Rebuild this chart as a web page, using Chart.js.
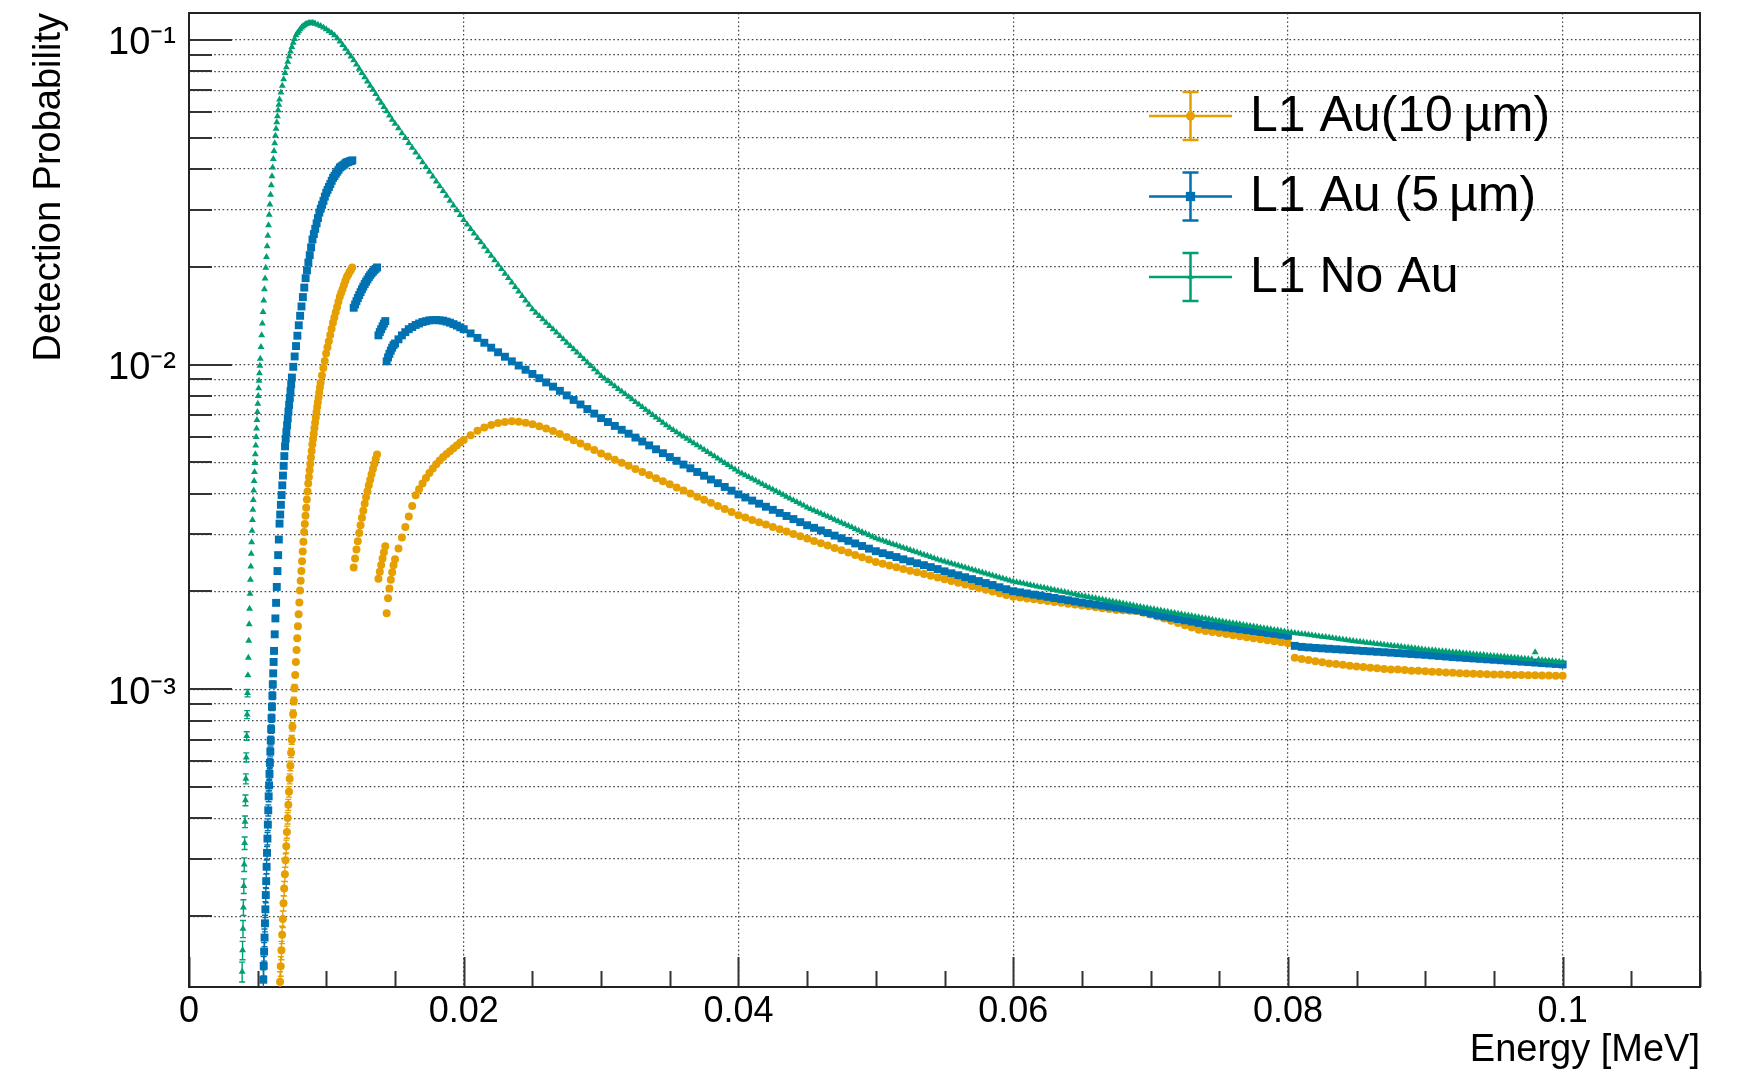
<!DOCTYPE html>
<html>
<head>
<meta charset="utf-8">
<script src="https://cdn.jsdelivr.net/npm/chart.js@4/dist/chart.umd.min.js"></script>
<style>
  html, body { margin: 0; padding: 0; background: #ffffff; }
  canvas { display: block; }
</style>
</head>
<body>
<canvas id="c" width="1745" height="1077"></canvas>
<script>
// ---------------- DATA ----------------
const seriesLabels = ['L1 Au(10\u2009\u00b5m)', 'L1 Au (5\u2009\u00b5m)', 'L1 No Au'];
const seriesColors = ['#E69F00', '#0072B2', '#009E73'];

const xTickValues = [0, 0.02, 0.04, 0.06, 0.08, 0.1];
const xTickLabels = ['0', '0.02', '0.04', '0.06', '0.08', '0.1'];
const yDecadeValues = [0.001, 0.01, 0.1];
const yDecadeLabels = ['10\u207b\u00b3', '10\u207b\u00b2', '10\u207b\u00b9'];
const xAxisTitle = 'Energy [MeV]';
const yAxisTitle = 'Detection Probability';
const eventsPerBin = 1.5e6;

// common energy bins above 15 keV (MeV)
const tailEnergy = [
0.015,0.0155,0.016,0.0165,0.017,0.0175,0.018,0.0185,0.019,0.0195,
0.02,0.0205,0.021,0.0215,0.022,0.0225,0.023,0.0235,0.024,0.0245,
0.025,0.0255,0.026,0.0265,0.027,0.0275,0.028,0.0285,0.029,0.0295,
0.03,0.0305,0.031,0.0315,0.032,0.0325,0.033,0.0335,0.034,0.0345,
0.035,0.0355,0.036,0.0365,0.037,0.0375,0.038,0.0385,0.039,0.0395,
0.04,0.0405,0.041,0.0415,0.042,0.0425,0.043,0.0435,0.044,0.0445,
0.045,0.0455,0.046,0.0465,0.047,0.0475,0.048,0.0485,0.049,0.0495,
0.05,0.0505,0.051,0.0515,0.052,0.0525,0.053,0.0535,0.054,0.0545,
0.055,0.0555,0.056,0.0565,0.057,0.0575,0.058,0.0585,0.059,0.0595,
0.06,0.0605,0.061,0.0615,0.062,0.0625,0.063,0.0635,0.064,0.0645,
0.065,0.0655,0.066,0.0665,0.067,0.0675,0.068,0.0685,0.069,0.0695,
0.07,0.0705,0.071,0.0715,0.072,0.0725,0.073,0.0735,0.074,0.0745,
0.075,0.0755,0.076,0.0765,0.077,0.0775,0.078,0.0785,0.079,0.0795,
0.08,0.0805,0.081,0.0815,0.082,0.0825,0.083,0.0835,0.084,0.0845,
0.085,0.0855,0.086,0.0865,0.087,0.0875,0.088,0.0885,0.089,0.0895,
0.09,0.0905,0.091,0.0915,0.092,0.0925,0.093,0.0935,0.094,0.0945,
0.095,0.0955,0.096,0.0965,0.097,0.0975,0.098,0.0985,0.099,0.0995,
0.1];

// in-between bins above 15 keV
const midEnergy = [
0.01525,0.01575,0.01625,0.01675,0.01725,0.01775,0.01825,0.01875,0.01925,0.01975,
0.02025,0.02075,0.02125,0.02175,0.02225,0.02275,0.02325,0.02375,0.02425,0.02475,
0.02525,0.02575,0.02625,0.02675,0.02725,0.02775,0.02825,0.02875,0.02925,0.02975,
0.03025,0.03075,0.03125,0.03175,0.03225,0.03275,0.03325,0.03375,0.03425,0.03475,
0.03525,0.03575,0.03625,0.03675,0.03725,0.03775,0.03825,0.03875,0.03925,0.03975,
0.04025,0.04075,0.04125,0.04175,0.04225,0.04275,0.04325,0.04375,0.04425,0.04475,
0.04525,0.04575,0.04625,0.04675,0.04725,0.04775,0.04825,0.04875,0.04925,0.04975,
0.05025,0.05075,0.05125,0.05175,0.05225,0.05275,0.05325,0.05375,0.05425,0.05475,
0.05525,0.05575,0.05625,0.05675,0.05725,0.05775,0.05825,0.05875,0.05925,0.05975,
0.06025,0.06075,0.06125,0.06175,0.06225,0.06275,0.06325,0.06375,0.06425,0.06475,
0.06525,0.06575,0.06625,0.06675,0.06725,0.06775,0.06825,0.06875,0.06925,0.06975,
0.07025,0.07075,0.07125,0.07175,0.07225,0.07275,0.07325,0.07375,0.07425,0.07475,
0.07525,0.07575,0.07625,0.07675,0.07725,0.07775,0.07825,0.07875,0.07925,0.07975,
0.08025,0.08075,0.08125,0.08175,0.08225,0.08275,0.08325,0.08375,0.08425,0.08475,
0.08525,0.08575,0.08625,0.08675,0.08725,0.08775,0.08825,0.08875,0.08925,0.08975,
0.09025,0.09075,0.09125,0.09175,0.09225,0.09275,0.09325,0.09375,0.09425,0.09475,
0.09525,0.09575,0.09625,0.09675,0.09725,0.09775,0.09825,0.09875,0.09925,0.09975];

// ---- L1 Au (10 um) ----
const au10LowEnergy = [
0.00663,0.00668,0.00673,0.00678,0.00683,0.00688,0.00693,0.00698,0.00703,0.00708,
0.00713,0.00718,0.00723,0.00728,0.00733,0.00738,0.00743,0.00748,0.00753,0.00758,
0.00763,0.00768,0.00773,0.00778,0.00783,0.00788,0.00793,0.00798,0.00803,0.00808,
0.00813,0.00818,0.00823,0.00828,0.00833,0.00838,0.00843,0.00848,0.00853,0.00858,
0.00863,0.00868,0.00873,0.00878,0.00883,0.00888,0.00893,0.00898,0.00903,0.00908,
0.00913,0.00918,0.00923,0.00928,0.00933,0.00938,0.00943,0.00948,0.00953,0.00958,
0.00968,0.00978,0.00988,0.00998,0.01008,0.01018,0.01028,0.01038,0.01048,0.01058,
0.01068,0.01078,0.01088,0.01098,0.01108,0.01118,0.01128,0.01138,0.01148,0.01158,
0.01168,0.01178,0.01188,
0.01199,0.01209,0.01219,0.01229,0.01239,0.01249,0.01259,0.01269,0.01279,0.01289,
0.01299,0.01309,0.01319,0.01329,0.01339,0.01349,0.01359,0.01369,
0.01379,0.01389,0.01399,0.01409,0.01419,0.01429,
0.01439,0.01449,0.01459,0.01469,0.01479,0.01489];
const au10LowProb = [
1.256e-4,1.403e-4,1.570e-4,1.754e-4,1.959e-4,2.193e-4,2.432e-4,2.692e-4,2.972e-4,3.281e-4,
3.631e-4,4.009e-4,4.406e-4,4.831e-4,5.297e-4,5.808e-4,6.368e-4,6.982e-4,7.656e-4,8.395e-4,
9.204e-4,1.009e-3,1.107e-3,1.213e-3,1.321e-3,1.435e-3,1.563e-3,1.702e-3,1.849e-3,2.014e-3,
2.158e-3,2.312e-3,2.477e-3,2.655e-3,2.844e-3,3.048e-3,3.228e-3,3.420e-3,3.622e-3,3.837e-3,
4.064e-3,4.305e-3,4.508e-3,4.721e-3,4.943e-3,5.176e-3,5.420e-3,5.675e-3,5.902e-3,6.124e-3,
6.368e-3,6.622e-3,6.871e-3,7.145e-3,7.396e-3,7.656e-3,7.925e-3,8.204e-3,8.492e-3,8.790e-3,
9.247e-3,9.750e-3,1.026e-2,1.081e-2,1.130e-2,1.180e-2,1.233e-2,1.288e-2,1.346e-2,1.396e-2,
1.449e-2,1.503e-2,1.560e-2,1.618e-2,1.663e-2,1.710e-2,1.758e-2,1.807e-2,1.858e-2,1.888e-2,
1.923e-2,1.954e-2,1.991e-2,
2.371e-3,2.529e-3,2.692e-3,2.858e-3,3.027e-3,3.199e-3,3.373e-3,3.548e-3,3.724e-3,3.899e-3,
4.074e-3,4.246e-3,4.416e-3,4.592e-3,4.764e-3,4.943e-3,5.117e-3,5.284e-3,
2.188e-3,2.301e-3,2.415e-3,2.529e-3,2.642e-3,2.754e-3,
1.714e-3,1.905e-3,2.042e-3,2.173e-3,2.291e-3,2.410e-3];
const au10TailProb = [
.002512,.002931,.003404,.003954,.004305,.004634,.004932,.005188,.005408,.005636,
.005861,.006053,.006252,.006397,.006516,.006607,.006653,.006683,.006668,.006622,
.006546,.006457,.006353,.006237,.006109,.005984,.005848,.005715,.005585,.005458,
.005321,.005206,.005093,.004983,.004875,.004770,.004667,.004566,.004467,.004370,
.004276,.004183,.004093,.004004,.003917,.003833,.003750,.003669,.003589,.003512,
.003436,.003379,.003323,.003268,.003214,.003162,.003110,.003059,.003008,.002959,
.002911,.002863,.002816,.002769,.002724,.002679,.002635,.002592,.002549,.002508,
.002466,.002436,.002406,.002377,.002347,.002318,.002291,.002262,.002235,.002207,
.002180,.002153,.002127,.002101,.002075,.002049,.002024,.002000,.001975,.001951,
.001928,.001916,.001904,.001892,.001880,.001869,.001857,.001846,.001834,.001823,
.001811,.001800,.001789,.001777,.001766,.001755,.001750,.001745,.001740,.001720,
.001700,.001675,.001650,.001625,.001600,.001575,.001550,.001525,.001510,.001500,
.001490,.001480,.001465,.001455,.001445,.001435,.001425,.001415,.001405,.001395,
.001385,.001250,.001240,.001230,.001220,.001210,.001200,.001195,.001190,.001180,
.001175,.001170,.001165,.001160,.001155,.001150,.001150,.001145,.001140,.001140,
.001135,.001132,.001129,.001126,.001123,.001120,.001118,.001116,.001114,.001112,
.001110,.001109,.001108,.001107,.001106,.001105,.001104,.001103,.001102,.001101,
.001100];
const au10MidProb = [
.002713,.003159,.003669,.004130,.004470,.004783,.005060,.005298,.005522,.005749];

// ---- L1 Au (5 um) ----
const au5LowEnergy = [
0.00541,0.00544,0.00547,0.00550,0.00553,0.00556,0.00559,0.00562,0.00565,0.00568,
0.00571,0.00574,0.00577,0.00580,0.00583,0.00586,0.00589,0.00592,0.00595,0.00598,
0.00601,0.00604,0.00607,0.00610,0.00613,0.00616,0.00619,
0.00624,0.00629,0.00634,0.00639,0.00644,0.00649,0.00654,0.00659,0.00664,0.00669,
0.00674,0.00679,0.00684,0.00689,0.00694,0.00699,0.00704,0.00709,0.00714,0.00719,
0.00724,0.00729,0.00734,0.00739,0.00744,0.00749,
0.00759,0.00769,0.00779,0.00789,0.00799,0.00809,0.00819,0.00829,0.00839,0.00849,
0.00859,0.00869,0.00879,0.00889,0.00899,0.00909,0.00919,0.00929,0.00939,0.00949,
0.00959,0.00969,0.00979,0.00989,0.00999,0.01009,0.01019,0.01029,0.01039,0.01049,
0.01059,0.01069,0.01079,0.01089,0.01099,0.01109,0.01119,0.01129,0.01139,0.01149,
0.01159,0.01169,0.01179,0.01189,
0.01199,0.01209,0.01219,0.01229,0.01239,0.01249,0.01259,0.01269,0.01279,0.01289,
0.01299,0.01309,0.01319,0.01329,0.01339,0.01349,0.01359,0.01369,
0.01379,0.01389,0.01399,0.01409,0.01419,0.01429,
0.01439,0.01449,0.01459,0.01469,0.01479,0.01489];
const au5LowProb = [
1.274e-4,1.406e-4,1.556e-4,1.718e-4,1.901e-4,2.099e-4,2.323e-4,2.564e-4,2.838e-4,3.133e-4,
3.467e-4,3.828e-4,4.236e-4,4.677e-4,5.058e-4,5.483e-4,5.929e-4,6.427e-4,6.950e-4,7.534e-4,
8.147e-4,8.831e-4,9.550e-4,1.035e-3,1.119e-3,1.213e-3,1.312e-3,
1.476e-3,1.652e-3,1.845e-3,2.065e-3,2.312e-3,2.588e-3,2.891e-3,3.236e-3,3.451e-3,3.698e-3,
3.963e-3,4.246e-3,4.550e-3,4.875e-3,5.224e-3,5.598e-3,5.902e-3,6.194e-3,6.501e-3,6.823e-3,
7.161e-3,7.516e-3,7.889e-3,8.279e-3,8.690e-3,9.120e-3,
9.840e-3,1.059e-2,1.140e-2,1.227e-2,1.321e-2,1.413e-2,1.510e-2,1.614e-2,1.726e-2,1.845e-2,
1.950e-2,2.061e-2,2.173e-2,2.296e-2,2.427e-2,2.523e-2,2.618e-2,2.723e-2,2.825e-2,2.938e-2,
3.020e-2,3.105e-2,3.192e-2,3.289e-2,3.381e-2,3.451e-2,3.524e-2,3.597e-2,3.681e-2,3.758e-2,
3.811e-2,3.873e-2,3.926e-2,3.981e-2,4.046e-2,4.074e-2,4.102e-2,4.130e-2,4.169e-2,4.198e-2,
4.207e-2,4.227e-2,4.236e-2,4.256e-2,
1.496e-2,1.531e-2,1.567e-2,1.603e-2,1.637e-2,1.671e-2,1.706e-2,1.738e-2,1.770e-2,1.799e-2,
1.828e-2,1.858e-2,1.884e-2,1.910e-2,1.932e-2,1.954e-2,1.972e-2,1.991e-2,
1.230e-2,1.259e-2,1.285e-2,1.312e-2,1.337e-2,1.361e-2,
1.023e-2,1.052e-2,1.079e-2,1.104e-2,1.127e-2,1.148e-2];
const au5TailProb = [
.01161,.01230,.01285,.01324,.01352,.01368,.01371,.01365,.01346,.01318,
.01285,.01247,.01208,.01167,.01127,.01091,.01057,.01023,.009931,.009638,
.009354,.009078,.008810,.008551,.008299,.008035,.007780,.007534,.007295,.007063,
.006839,.006653,.006471,.006295,.006124,.005957,.005794,.005636,.005483,.005333,
.005188,.005052,.004920,.004791,.004667,.004545,.004426,.004311,.004198,.004088,
.003981,.003895,.003811,.003728,.003648,.003569,.003491,.003416,.003342,.003270,
.003199,.003141,.003083,.003027,.002972,.002917,.002864,.002812,.002761,.002710,
.002661,.002624,.002588,.002553,.002512,.002477,.002443,.002410,.002377,.002344,
.002307,.002275,.002244,.002213,.002183,.002153,.002123,.002094,.002061,.002032,
.002004,.001988,.001972,.001956,.001941,.001925,.001910,.001894,.001879,.001864,
.001849,.001836,.001823,.001810,.001797,.001785,.001773,.001761,.001749,.001730,
.001710,.001690,.001675,.001660,.001645,.001630,.001615,.001600,.001580,.001570,
.001560,.001550,.001540,.001530,.001520,.001510,.001500,.001490,.001480,.001470,
.001460,.001360,.001350,.001345,.001340,.001336,.001332,.001328,.001324,.001320,
.001316,.001312,.001308,.001304,.001300,.001296,.001292,.001288,.001284,.001280,
.001276,.001271,.001266,.001261,.001256,.001252,.001248,.001244,.001240,.001236,
.001232,.001228,.001224,.001220,.001216,.001212,.001208,.001204,.001200,.001196,
.001192];
const au5MidProb = [
.01196,.01258,.01305,.01338,.01360,.01370,.01368,.01356,.01332,.01302];

// ---- L1 No Au ----
const noAuLowEnergy = [
0.00387,0.00390,0.00393,0.00396,0.00399,0.00402,0.00405,0.00408,0.00411,0.00414,
0.00417,0.00420,0.00423,0.00426,0.00429,0.00432,0.00435,0.00438,0.00441,0.00444,
0.00447,0.00450,0.00453,0.00456,0.00459,0.00462,0.00465,0.00468,0.00471,0.00474,
0.00477,0.00480,0.00483,0.00486,0.00489,0.00492,0.00495,0.00498,0.00501,0.00504,
0.00507,0.00510,0.00513,0.00516,0.00519,
0.00524,0.00529,0.00534,0.00539,0.00544,0.00549,0.00554,0.00559,0.00564,0.00569,
0.00574,0.00579,0.00584,0.00589,0.00594,0.00599,0.00604,0.00609,0.00614,0.00619,
0.00624,0.00629,0.00634,0.00639,0.00644,0.00649,0.00654,0.00659,
0.00669,0.00679,0.00689,0.00699,0.00709,0.00719,0.00729,0.00739,0.00749,0.00759,
0.00769,0.00779,0.00789,0.00799,0.00809,0.00819,0.00829,0.00839,0.00849,0.00859,
0.00869,0.00879,0.00889,0.00899,0.00909,0.00919,
0.00939,0.00959,0.00979,0.00999,0.01019,0.01039,0.01059,0.01079,0.01099,0.01119,
0.01139,0.01159,0.01179,0.01199,0.01219,0.01239,0.01259,0.01279,0.01299,0.01319,
0.01339,0.01359,0.01379,0.01399,0.01419,0.01439,0.01459,0.01479];
const noAuLowProb = [
1.349e-4,1.570e-4,1.828e-4,2.128e-4,2.477e-4,2.884e-4,3.357e-4,3.908e-4,4.550e-4,5.297e-4,
6.166e-4,7.178e-4,8.356e-4,9.727e-4,1.104e-3,1.250e-3,1.409e-3,1.585e-3,1.770e-3,1.968e-3,
2.173e-3,2.388e-3,2.612e-3,2.838e-3,3.076e-3,3.319e-3,3.573e-3,3.828e-3,4.093e-3,4.375e-3,
4.667e-3,4.977e-3,5.297e-3,5.636e-3,5.984e-3,6.353e-3,6.745e-3,7.145e-3,7.568e-3,7.998e-3,
8.453e-3,8.913e-3,9.397e-3,9.908e-3,1.042e-2,
1.132e-2,1.230e-2,1.337e-2,1.452e-2,1.574e-2,1.706e-2,1.841e-2,1.986e-2,2.143e-2,2.312e-2,
2.495e-2,2.685e-2,2.891e-2,3.112e-2,3.334e-2,3.565e-2,3.802e-2,4.046e-2,4.295e-2,4.550e-2,
4.808e-2,5.070e-2,5.321e-2,5.572e-2,5.821e-2,6.067e-2,6.310e-2,6.546e-2,
6.887e-2,7.228e-2,7.568e-2,7.907e-2,8.241e-2,8.570e-2,8.892e-2,9.204e-2,9.506e-2,9.795e-2,
0.1007,0.1033,0.1050,0.1064,0.1079,0.1091,0.1102,0.1109,0.1117,0.1122,
0.1125,0.1127,0.1127,0.1127,0.1125,0.1122,
0.1114,0.1104,0.1091,0.1079,0.1064,0.1050,0.1033,0.1012,0.09886,0.09638,
0.09397,0.09141,0.08892,0.08650,0.08395,0.08147,0.07907,0.07674,0.07447,0.07228,
0.07015,0.06808,0.06592,0.06397,0.06209,0.06026,0.05848,0.05675];
const noAuTailProb = [
.05521,.05156,.04816,.04498,.04200,.03923,.03664,.03422,.03196,.02985,
.02786,.02615,.02454,.02304,.02162,.02030,.01905,.01788,.01678,.01575,
.01479,.01411,.01346,.01284,.01225,.01168,.01114,.01063,.01014,.009672,
.009226,.008892,.008570,.008260,.007961,.007673,.007395,.007127,.006869,.006620,
.006383,.006188,.005998,.005815,.005637,.005464,.005297,.005135,.004978,.004826,
.004677,.004560,.004446,.004335,.004227,.004121,.004018,.003918,.003820,.003724,
.003631,.003553,.003476,.003401,.003328,.003256,.003186,.003117,.003050,.002984,
.002917,.002869,.002821,.002775,.002729,.002684,.002640,.002596,.002553,.002511,
.002472,.002437,.002403,.002370,.002337,.002304,.002272,.002240,.002209,.002178,
.002148,.002126,.002105,.002083,.002062,.002042,.002021,.002001,.001981,.001961,
.001941,.001923,.001905,.001888,.001870,.001853,.001836,.001819,.001802,.001786,
.001770,.001755,.001739,.001724,.001709,.001694,.001680,.001665,.001651,.001636,
.001622,.001609,.001597,.001584,.001572,.001560,.001547,.001535,.001523,.001512,
.001500,.001490,.001480,.001471,.001461,.001451,.001442,.001432,.001423,.001413,
.001403,.001395,.001387,.001379,.001371,.001363,.001355,.001347,.001340,.001332,
.001324,.001318,.001312,.001306,.001300,.001294,.001288,.001282,.001276,.001271,
.001265,.001260,.001255,.001249,.001244,.001239,.001300,.001229,.001223,.001218,
.001213];
const noAuMidProb = [
.05339,.04986,.04657,.04349,.04062,.03794,.03543,.03309,.03091,.02886,
.02701,.02535,.02379,.02233,.02096,.01968,.01847,.01733,.01627,.01527,
.01445,.01379,.01315,.01255,.01197,.01141,.01089,.01039,.009906,.009449,
.009059,.008731,.008415,.008111,.007817,.007534,.007261,.006998,.006745,.006502,
.006286,.006093,.005907,.005726,.005551,.005381,.005216,.005057,.004902,.004752,
.004619,.004503,.004391,.004281,.004174,.004070,.003968,.003869,.003772,.003678,
.003592,.003515,.003439,.003365,.003292,.003221,.003152,.003084,.003017,.002951,
.002893,.002845,.002798,.002752,.002707,.002662,.002618,.002575,.002532,.002492,
.002455,.002420,.002387,.002354,.002321,.002288,.002256,.002225,.002194,.002163,
.002137,.002116,.002094,.002073,.002052,.002032,.002011,.001991,.001971,.001951,
.001932,.001914,.001897,.001879,.001862,.001845,.001828,.001811,.001794,.001778,
.001763,.001747,.001732,.001717,.001702,.001687,.001673,.001658,.001644,.001629,
.001616,.001603,.001591,.001578,.001566,.001554,.001541,.001529,.001518,.001506,
.001495,.001485,.001476,.001466,.001456,.001447,.001437,.001428,.001418,.001408,
.001399,.001391,.001383,.001375,.001367,.001359,.001351,.001344,.001336,.001328,
.001321,.001315,.001309,.001303,.001297,.001291,.001285,.001279,.001274,.001268,
.001263,.001258,.001252,.001247,.001242,.001237,.001232,.001226,.001221,.001216];

// ---------------- BUILD ----------------
const FONT = '"Liberation Sans", Arial, Helvetica, sans-serif';
Chart.defaults.font.family = FONT;
Chart.defaults.color = '#000';

function buildPoints(lowE, lowP, tailP, midP) {
  const pts = lowE.map((e, i) => ({ x: e, y: lowP[i] }));
  tailEnergy.forEach((e, i) => { if (tailP[i] !== undefined) pts.push({ x: e, y: tailP[i] }); });
  midEnergy.forEach((e, i) => { if (midP[i] !== undefined) pts.push({ x: e, y: midP[i] }); });
  return pts.sort((a, b) => a.x - b.x);
}

// drawing order: first dataset on top -> No Au on top
const datasets = [
  { label: seriesLabels[2], data: buildPoints(noAuLowEnergy, noAuLowProb, noAuTailProb, noAuMidProb),
    pointStyle: 'triangle', pointRadius: 4, legendSize: 3.5, color: seriesColors[2] },
  { label: seriesLabels[1], data: buildPoints(au5LowEnergy, au5LowProb, au5TailProb, au5MidProb),
    pointStyle: 'rect', pointRadius: 5.6, legendSize: 6.2, color: seriesColors[1] },
  { label: seriesLabels[0], data: buildPoints(au10LowEnergy, au10LowProb, au10TailProb, au10MidProb),
    pointStyle: 'circle', pointRadius: 4, legendSize: 4.5, color: seriesColors[0] }
].map(d => Object.assign(d, {
  backgroundColor: d.color, borderColor: d.color,
  pointBackgroundColor: d.color, pointBorderColor: d.color,
  pointBorderWidth: 0, pointHoverRadius: d.pointRadius, showLine: false
}));
const legendOrder = [2, 1, 0];

const yMin = 1.21e-4, yMax = 0.121;
function isDecade(v) { const l = Math.log10(v); return Math.abs(l - Math.round(l)) < 1e-6; }
function isMajorX(v) { return Math.abs(v / 0.02 - Math.round(v / 0.02)) < 1e-6; }

const gridColor = 'rgba(40,40,40,0.85)';

const framePlugin = {
  id: 'rootFrame',
  beforeDatasetsDraw(chart) {
    const { ctx, chartArea: a, scales: { x, y } } = chart;
    ctx.save();
    ctx.strokeStyle = '#333';
    ctx.lineWidth = 2;
    ctx.beginPath();
    y.ticks.forEach(t => {
      const py = Math.round(y.getPixelForValue(t.value));
      const len = isDecade(t.value) ? 43 : 23;
      ctx.moveTo(a.left, py); ctx.lineTo(a.left + len, py);
    });
    x.ticks.forEach(t => {
      const px = Math.round(x.getPixelForValue(t.value)) + 0.5;
      const len = isMajorX(t.value) ? 30 : 16;
      ctx.moveTo(px, a.bottom); ctx.lineTo(px, a.bottom - len);
    });
    ctx.stroke();
    ctx.lineWidth = 2;
    ctx.strokeStyle = '#222';
    ctx.strokeRect(a.left, a.top, a.right - a.left, a.bottom - a.top);
    ctx.restore();
  }
};

const errorBarPlugin = {
  id: 'errorBars',
  beforeDatasetsDraw(chart) {
    const { ctx, chartArea: a, scales: { x, y } } = chart;
    ctx.save();
    ctx.beginPath();
    ctx.rect(a.left, a.top, a.right - a.left, a.bottom - a.top);
    ctx.clip();
    const cap = 3;
    for (let d = chart.data.datasets.length - 1; d >= 0; d--) {
      const ds = chart.data.datasets[d];
      ctx.strokeStyle = ds.color;
      ctx.lineWidth = 1.4;
      ctx.beginPath();
      ds.data.forEach(pt => {
        const err = Math.sqrt(pt.y / eventsPerBin);
        const px = x.getPixelForValue(pt.x);
        const y1 = y.getPixelForValue(pt.y + err);
        const y2 = y.getPixelForValue(Math.max(pt.y - err, 1e-7));
        if (y1 - y2 > -7) return;
        ctx.moveTo(px, y1); ctx.lineTo(px, y2);
        ctx.moveTo(px - cap, y1); ctx.lineTo(px + cap, y1);
        ctx.moveTo(px - cap, y2); ctx.lineTo(px + cap, y2);
      });
      ctx.stroke();
    }
    ctx.restore();
  }
};

function drawMarker(ctx, style, cx, cy, r, color) {
  ctx.fillStyle = color;
  ctx.beginPath();
  if (style === 'circle') {
    ctx.arc(cx, cy, r, 0, Math.PI * 2);
  } else if (style === 'rect') {
    ctx.rect(cx - r * 0.75, cy - r * 0.75, r * 1.5, r * 1.5);
  } else {
    ctx.moveTo(cx, cy - r);
    ctx.lineTo(cx + r * 0.87, cy + r * 0.5);
    ctx.lineTo(cx - r * 0.87, cy + r * 0.5);
    ctx.closePath();
  }
  ctx.fill();
}

const legendPlugin = {
  id: 'rootLegend',
  afterDraw(chart) {
    const ctx = chart.ctx;
    ctx.save();
    legendOrder.forEach((dsIndex, row) => {
      const ds = chart.data.datasets[dsIndex];
      const cy = 116 + row * 80.5;
      const cx = 1190.5;
      ctx.strokeStyle = ds.color;
      ctx.lineWidth = 2.5;
      ctx.beginPath();
      ctx.moveTo(1149, cy); ctx.lineTo(1232, cy);
      ctx.moveTo(cx, cy - 24); ctx.lineTo(cx, cy + 24);
      ctx.moveTo(cx - 8, cy - 24); ctx.lineTo(cx + 8, cy - 24);
      ctx.moveTo(cx - 8, cy + 24); ctx.lineTo(cx + 8, cy + 24);
      ctx.stroke();
      drawMarker(ctx, ds.pointStyle, cx, cy, ds.legendSize, ds.color);
      ctx.fillStyle = '#000';
      ctx.font = '50px ' + FONT;
      ctx.textBaseline = 'middle';
      ctx.textAlign = 'left';
      ctx.fillText(ds.label, 1250, cy + 1);
    });
    ctx.restore();
  }
};

new Chart(document.getElementById('c'), {
  type: 'scatter',
  data: { datasets },
  options: {
    responsive: false,
    animation: false,
    devicePixelRatio: 1,
    events: [],
    layout: { padding: { left: 0, right: 45, top: 13, bottom: 0 } },
    plugins: { legend: { display: false }, tooltip: { enabled: false } },
    scales: {
      x: {
        type: 'linear', min: 0, max: 0.11,
        afterBuildTicks: s => {
          const t = [];
          for (let i = 0; i <= 22; i++) t.push({ value: i * 0.005 });
          s.ticks = t;
        },
        afterFit: s => { s.height = 90; s.paddingLeft = 0; s.paddingRight = 0; },
        grid: {
          drawTicks: false,
          lineWidth: 1.2,
          color: c => (c.tick && isMajorX(c.tick.value) && c.tick.value > 0.001) ? gridColor : 'rgba(0,0,0,0)'
        },
        border: { display: false, dash: [1.6, 2.6] },
        ticks: {
          autoSkip: false, maxRotation: 0, padding: 3,
          font: { size: 36 }, color: '#000',
          callback: v => {
            const i = xTickValues.findIndex(t => Math.abs(t - v) < 1e-9);
            return i >= 0 ? xTickLabels[i] : '';
          }
        },
        title: {
          display: true, text: xAxisTitle, align: 'end',
          font: { size: 38 }, color: '#000', padding: { top: 0, bottom: 4 }
        }
      },
      y: {
        type: 'logarithmic', min: yMin, max: yMax,
        afterBuildTicks: s => {
          const t = [];
          for (let e = -4; e <= -1; e++) {
            for (let n = 1; n <= 9; n++) {
              const v = n * Math.pow(10, e);
              if (v >= yMin && v <= yMax) t.push({ value: v });
            }
          }
          s.ticks = t;
        },
        afterFit: s => { s.width = 189; s.paddingTop = 0; s.paddingBottom = 0; },
        grid: { drawTicks: false, lineWidth: 1.2, color: gridColor },
        border: { display: false, dash: [1.6, 2.6] },
        ticks: {
          autoSkip: false, padding: 13, labelOffset: 4,
          font: { size: 38 }, color: '#000',
          callback: v => {
            const i = yDecadeValues.findIndex(t => Math.abs(Math.log10(t) - Math.log10(v)) < 1e-6);
            return i >= 0 ? yDecadeLabels[i] : '';
          }
        },
        title: {
          display: true, text: yAxisTitle, align: 'end',
          font: { size: 38 }, color: '#000', padding: { top: 27, bottom: 0 }
        }
      }
    }
  },
  plugins: [framePlugin, errorBarPlugin, legendPlugin]
});
</script>
</body>
</html>
